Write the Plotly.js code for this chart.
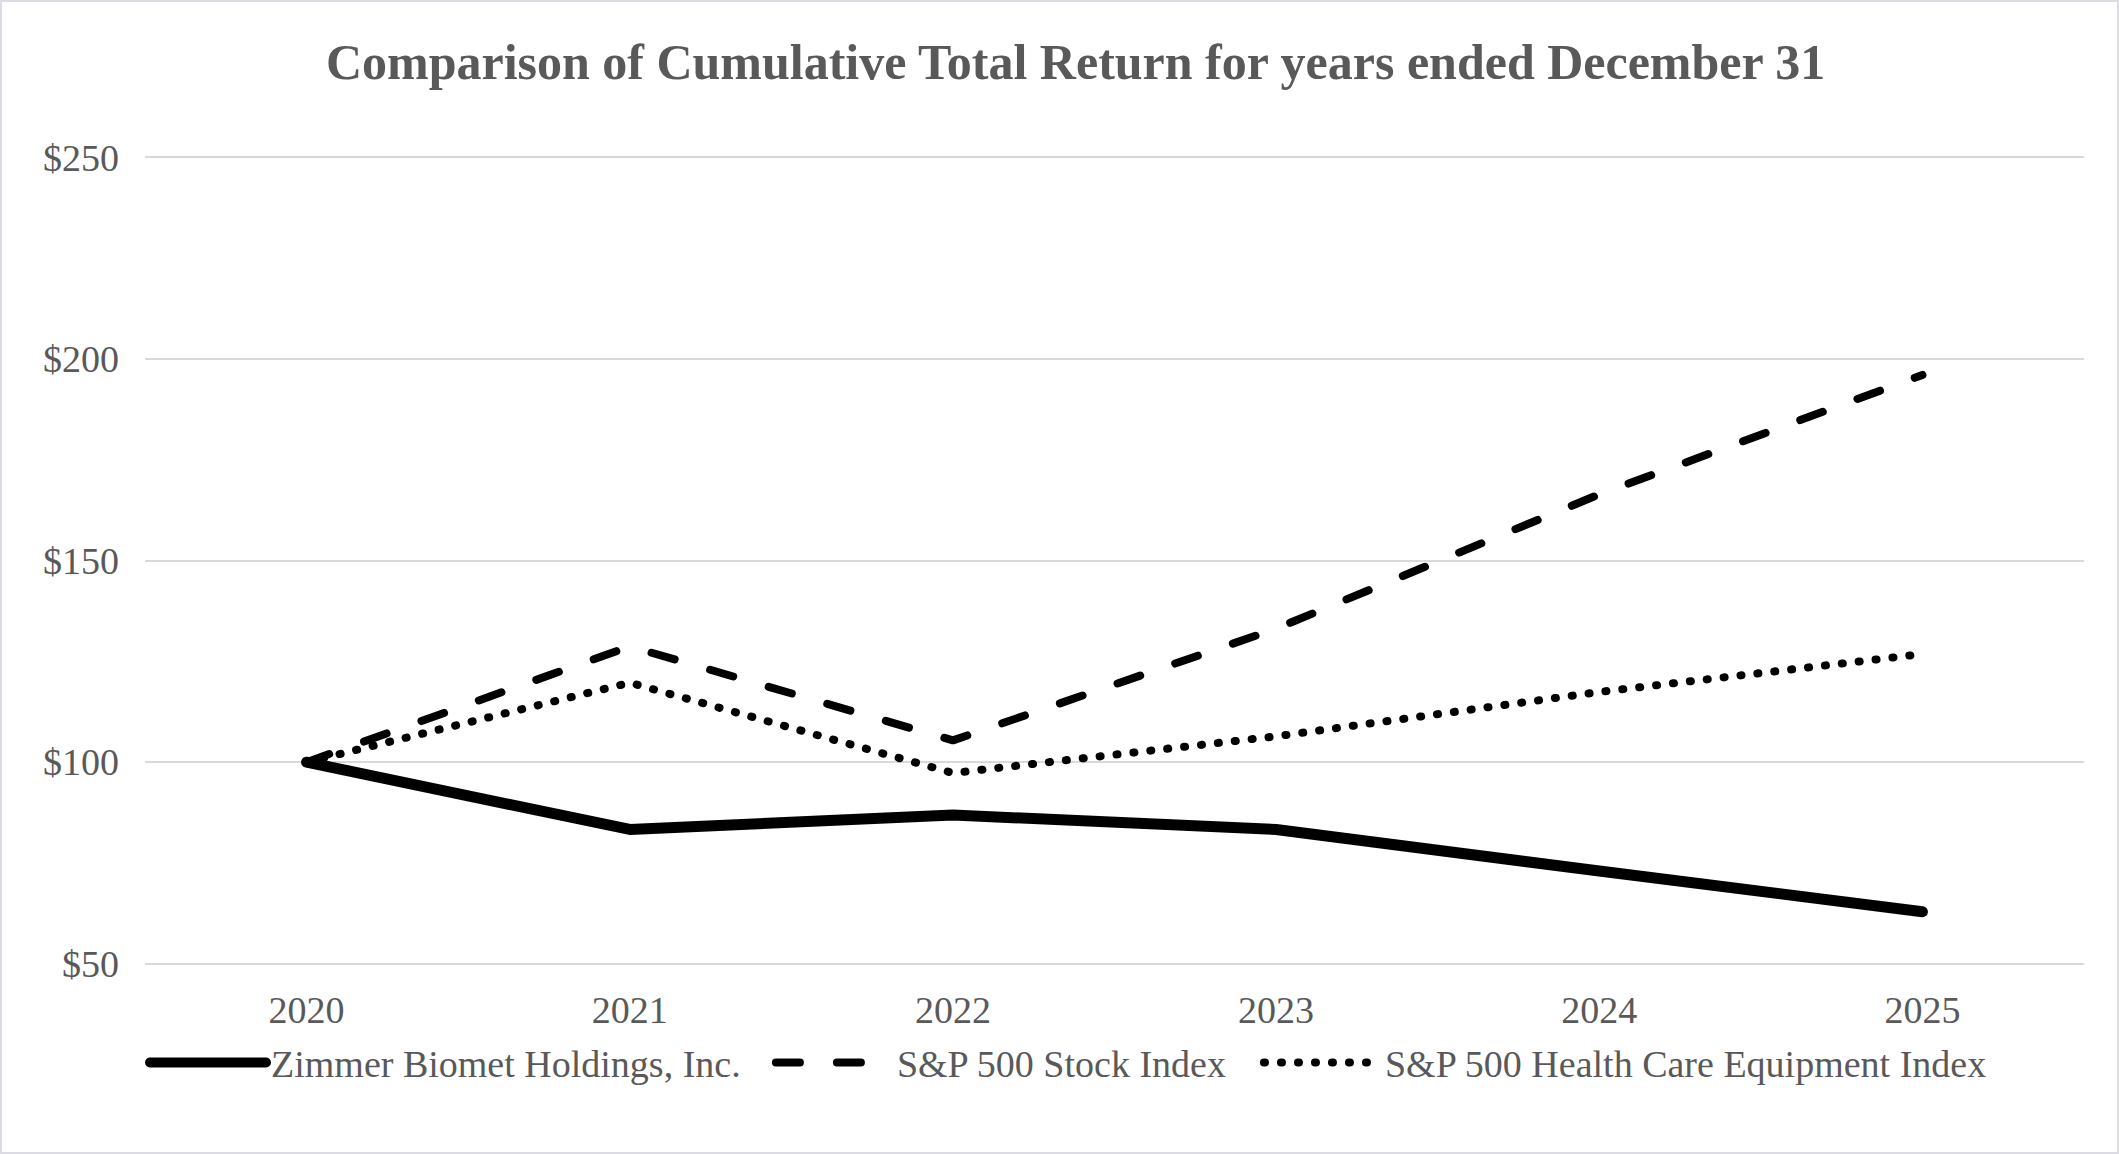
<!DOCTYPE html>
<html>
<head>
<meta charset="utf-8">
<script src="https://cdn.plot.ly/plotly-3.0.1.min.js"></script>
<style>
  html, body { margin: 0; padding: 0; background: #ffffff; }
  #chart { width: 2119px; height: 1154px; }
  #frame { position: absolute; left: 0; top: 0; width: 2115px; height: 1150px; border: 2px solid #dcdae3; pointer-events: none; }
  #chart svg path.js-line { stroke-linecap: round !important; stroke-linejoin: round !important; }
</style>
</head>
<body>
<div id="chart"></div>
<div id="frame"></div>
<script>
const years = ["2020", "2021", "2022", "2023", "2024", "2025"];
const zimmer = [100, 83.3, 86.9, 83.3, 73.0, 62.9];
const sp500 = [100, 128.7, 105.4, 133.1, 166.4, 196.0];
const hcEquip = [100, 119.7, 97.3, 106.4, 117.4, 126.8];
const yTicks = [50, 100, 150, 200, 250];
const yTickText = ["$50", "$100", "$150", "$200", "$250"];

const serif = "Liberation Serif, Times New Roman, serif";
const grey = "#595959";

const traces = [
  { x: years, y: zimmer, type: "scatter", mode: "lines", name: "Zimmer Biomet Holdings, Inc.",
    line: { color: "#000000", width: 11 }, legend: "legend" },
  { x: years, y: sp500, type: "scatter", mode: "lines", name: "S&P 500 Stock Index",
    line: { color: "#000000", width: 8, dash: "24px,37px" }, legend: "legend2" },
  { x: years, y: hcEquip, type: "scatter", mode: "lines", name: "S&P 500 Health Care Equipment Index",
    line: { color: "#000000", width: 8, dash: "1px,16px" }, legend: "legend3" }
];

const legendBase = { orientation: "h", xanchor: "left", y: -0.121, yanchor: "middle",
  font: { family: serif, size: 38, color: grey }, itemwidth: 116, bgcolor: "rgba(0,0,0,0)" };

const layout = {
  width: 2119, height: 1154,
  paper_bgcolor: "#ffffff", plot_bgcolor: "#ffffff",
  margin: { l: 145, r: 35, t: 156, b: 189 },
  title: { text: "<b>Comparison of Cumulative Total Return for years ended December 31</b>",
    font: { family: serif, size: 50, color: grey }, x: 0.5076, xanchor: "center", y: 1 - 61/1154, yanchor: "middle", yref: "container" },
  xaxis: { type: "category", range: [-0.5, 5.5], showgrid: false, zeroline: false, showline: false,
    ticks: "", tickfont: { family: serif, size: 38, color: grey }, ticklabelstandoff: 19 },
  yaxis: { range: [49.7, 250.3], tickvals: yTicks, ticktext: yTickText, showgrid: true, gridcolor: "#d9d9d9", gridwidth: 2,
    zeroline: false, showline: false, ticks: "", tickfont: { family: serif, size: 38, color: grey }, ticklabelstandoff: 25 },
  showlegend: true,
  legend: Object.assign({}, legendBase, { x: 0 }),
  legend2: Object.assign({}, legendBase, { x: 0.3228 }),
  legend3: Object.assign({}, legendBase, { x: 0.5745 })
};

Plotly.newPlot("chart", traces, layout, { displayModeBar: false, staticPlot: true });
</script>
</body>
</html>
